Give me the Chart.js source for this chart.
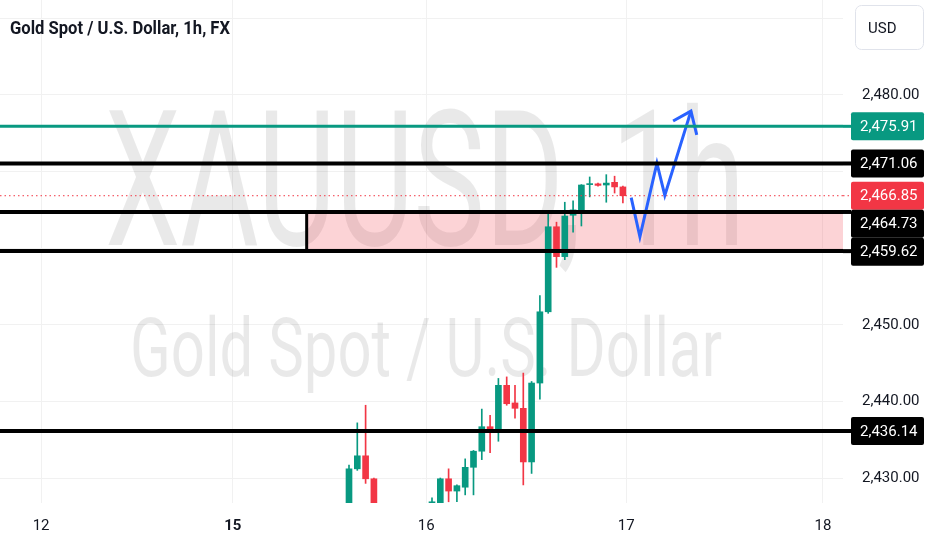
<!DOCTYPE html>
<html>
<head>
<meta charset="utf-8">
<script src="https://cdn.jsdelivr.net/npm/chart.js@4.4.1/dist/chart.umd.min.js"></script>
<style>
  html, body { margin: 0; padding: 0; background: #fff; }
  #wrap { position: relative; width: 932px; height: 550px; }
</style>
</head>
<body>
<div id="wrap"><canvas id="xau"></canvas></div>
<script>
// hourly bars, x = bar index, prices
const barIndex = [38, 39, 40, 41, 48, 49, 50, 51, 52, 53, 54, 55, 56, 57, 58, 59, 60, 61, 62, 63, 64, 65, 66, 67, 68, 69, 70, 71];
const opens  = [2425.5, 2431.2, 2432.9, 2429.9, 2425.8, 2425.6, 2429.9, 2428.3, 2428.8, 2431.4, 2433.5, 2436.7, 2436.3, 2442.1, 2439.8, 2439.1, 2432.1, 2442.4, 2451.7, 2462.8, 2458.9, 2464.3, 2465.0, 2468.3, 2468.4, 2468.25, 2468.6, 2468.0];
const highs  = [2431.7, 2437.2, 2439.5, 2430.0, 2427.4, 2430.0, 2431.2, 2429.1, 2432.5, 2433.6, 2439.0, 2438.2, 2443.0, 2443.2, 2442.1, 2443.7, 2442.6, 2453.8, 2464.9, 2463.4, 2466.0, 2466.2, 2468.3, 2469.3, 2468.5, 2469.6, 2469.4, 2468.1];
const lows   = [2424.0, 2431.0, 2429.3, 2424.0, 2425.5, 2425.0, 2426.9, 2426.9, 2427.8, 2427.8, 2432.4, 2433.3, 2434.8, 2439.5, 2437.8, 2429.1, 2430.6, 2440.3, 2451.5, 2457.5, 2458.5, 2462.1, 2462.9, 2466.7, 2468.1, 2466.0, 2467.2, 2465.9];
const closes = [2431.2, 2432.9, 2429.9, 2425.0, 2426.9, 2429.9, 2428.3, 2429.0, 2431.4, 2433.5, 2436.7, 2436.1, 2442.1, 2439.7, 2439.1, 2432.1, 2442.4, 2451.7, 2462.8, 2458.9, 2464.2, 2465.0, 2468.25, 2468.4, 2468.2, 2468.5, 2468.0, 2466.85];

// axis ticks
const dayTickPos = [0.9, 24, 47.3, 71.4, 95.1];
const dayTickLabels = ['12', '15', '16', '17', '18'];
const boldDay = '15';
const priceTicks = [2430, 2440, 2450, 2460, 2470, 2480, 2490];
const hiddenPriceTicks = [2460, 2470, 2490];

// drawings on the chart
const greenLevel = 2475.91;
const blackLevels = [2471.06, 2464.73, 2459.62, 2436.14];
const lastPrice = 2466.85;
const zoneTop = 2464.73;
const zoneBottom = 2459.62;
const zoneStart = 32.9;
const pathX = [72, 73.05, 75.1, 76.05, 79.2];
const pathY = [2466.6, 2461.5, 2471.1, 2466.9, 2477.9];
const arrowX = [77.05, 79.2, 79.9];
const arrowY = [2476.6, 2477.9, 2474.8];

const X_MIN = -4.05, X_MAX = 97.52;
const UP = '#089981', DOWN = '#f23645';

const candleColors = barIndex.map((x, i) => closes[i] >= opens[i] ? UP : DOWN);

function hline(v, color, width, dash) {
    return {
        type: 'line',
        data: [{ x: X_MIN, y: v }, { x: X_MAX, y: v }],
        borderColor: color,
        borderWidth: width,
        borderDash: dash || [],
        pointRadius: 0,
        order: 0
    };
}

function fitText(ctx, text, x, y, width) {
    const w = ctx.measureText(text).width;
    ctx.save();
    ctx.translate(x, y);
    ctx.scale(width / w, 1);
    ctx.fillText(text, 0, 0);
    ctx.restore();
}

// watermark, zone box, price labels, title, currency button
const drawings = {
    id: 'drawings',
    beforeDatasetsDraw(chart) {
        const { ctx, chartArea, scales } = chart;
        ctx.save();
        ctx.fillStyle = 'rgba(0,0,0,0.085)';
        ctx.textBaseline = 'alphabetic';
        ctx.font = '400 190px Roboto';
        fitText(ctx, 'XAUUSD, 1h', 105, 245, 640);
        ctx.font = '400 82px Roboto';
        fitText(ctx, 'Gold Spot / U.S. Dollar', 130, 376, 592);

        // pink zone
        const zx = scales.x.getPixelForValue(zoneStart);
        const zt = scales.y.getPixelForValue(zoneTop);
        const zb = scales.y.getPixelForValue(zoneBottom);
        ctx.fillStyle = 'rgba(242,54,69,0.22)';
        ctx.fillRect(zx, zt, chartArea.right - zx, zb - zt);
        ctx.restore();
    },
    afterDatasetsDraw(chart) {
        const { ctx, scales } = chart;
        const zx = scales.x.getPixelForValue(zoneStart);
        const zt = scales.y.getPixelForValue(zoneTop);
        const zb = scales.y.getPixelForValue(zoneBottom);
        ctx.save();
        ctx.strokeStyle = '#000';
        ctx.lineWidth = 3;
        ctx.beginPath();
        ctx.moveTo(zx, zt);
        ctx.lineTo(zx, zb);
        ctx.stroke();
        ctx.restore();
    },
    afterDraw(chart) {
        const { ctx, chartArea, scales } = chart;
        ctx.save();

        // price labels on the axis, pushed down when they overlap
        const labels = [
            { v: greenLevel, bg: UP },
            { v: lastPrice, bg: DOWN },
            ...blackLevels.map(v => ({ v, bg: '#000' }))
        ].map(l => ({ ...l, y: scales.y.getPixelForValue(l.v) }))
         .sort((a, b) => a.y - b.y);
        const h = 28;
        let prevBottom = -Infinity;
        labels.forEach(l => {
            let top = l.y - h / 2;
            if (top < prevBottom) top = prevBottom;
            prevBottom = top + h;
            // small connector from the plot edge
            ctx.strokeStyle = l.bg;
            ctx.lineWidth = l.bg === '#000' ? 4 : (l.bg === UP ? 3 : 1);
            if (l.bg === DOWN) ctx.setLineDash([1.5, 3]);
            ctx.beginPath();
            ctx.moveTo(chartArea.right, l.y);
            ctx.lineTo(851, l.y);
            ctx.stroke();
            ctx.setLineDash([]);
            ctx.fillStyle = l.bg;
            ctx.beginPath();
            ctx.roundRect(851, top, 73, h, 2);
            ctx.fill();
            ctx.fillStyle = '#fff';
            ctx.font = '15px Roboto';
            ctx.textBaseline = 'middle';
            ctx.textAlign = 'left';
            ctx.fillText(l.v.toLocaleString('en-US', { minimumFractionDigits: 2 }), 860, top + h / 2 + 1);
        });

        // currency button
        ctx.strokeStyle = '#e0e3eb';
        ctx.lineWidth = 1;
        ctx.beginPath();
        ctx.roundRect(855.5, 5.5, 68, 44, 6);
        ctx.stroke();
        ctx.fillStyle = '#131722';
        ctx.font = '15px Roboto';
        ctx.textBaseline = 'middle';
        ctx.fillText('USD', 868, 29);

        // title
        ctx.font = 'bold 19px Roboto';
        ctx.textBaseline = 'middle';
        ctx.textAlign = 'left';
        fitText(ctx, 'Gold Spot / U.S. Dollar, 1h, FX', 10, 29, 220);
        ctx.restore();
    }
};

new Chart(document.getElementById('xau'), {
    type: 'bar',
    data: {
        datasets: [
            hline(greenLevel, UP, 3),
            ...blackLevels.map(v => hline(v, '#000', 4)),
            {
                type: 'line',
                data: pathX.map((x, i) => ({ x, y: pathY[i] })),
                borderColor: '#2962ff',
                borderWidth: 3,
                pointRadius: 0,
                tension: 0,
                order: 0
            },
            {
                type: 'line',
                data: arrowX.map((x, i) => ({ x, y: arrowY[i] })),
                borderColor: '#2962ff',
                borderWidth: 3,
                pointRadius: 0,
                tension: 0,
                order: 0
            },
            {
                type: 'bar',
                data: barIndex.map((x, i) => ({ x, y: [lows[i], highs[i]] })),
                backgroundColor: candleColors,
                barThickness: 1,
                grouped: false,
                order: 2
            },
            {
                type: 'bar',
                data: barIndex.map((x, i) => ({ x, y: [opens[i], closes[i]] })),
                backgroundColor: candleColors,
                barThickness: 6,
                minBarLength: 1,
                grouped: false,
                order: 1
            },
            hline(lastPrice, DOWN, 1, [1.5, 3])
        ]
    },
    options: {
        responsive: true,
        maintainAspectRatio: false,
        animation: false,
        layout: { padding: 0 },
        plugins: {
            legend: { display: false },
            tooltip: { enabled: false }
        },
        scales: {
            x: {
                type: 'linear',
                min: X_MIN,
                max: X_MAX,
                offset: false,
                afterBuildTicks: s => { s.ticks = dayTickPos.map(v => ({ value: v })); },
                ticks: {
                    autoSkip: false,
                    maxRotation: 0,
                    padding: 14,
                    color: '#131722',
                    callback: (v, i) => dayTickLabels[i],
                    font: c => ({ family: 'Roboto', size: 15, weight: dayTickLabels[c.index] === boldDay ? 'bold' : 'normal' })
                },
                grid: { color: '#f1f1f1', drawTicks: false, offset: false },
                border: { display: false },
                afterFit: s => { s.height = 47; s.paddingLeft = 0; s.paddingRight = 0; }
            },
            y: {
                type: 'linear',
                position: 'right',
                min: 2426.74,
                max: 2492.4,
                afterBuildTicks: s => { s.ticks = priceTicks.map(v => ({ value: v })); },
                ticks: {
                    padding: 19,
                    color: '#131722',
                    font: { family: 'Roboto', size: 15 },
                    callback: v => hiddenPriceTicks.includes(v) ? '' : v.toLocaleString('en-US', { minimumFractionDigits: 2 })
                },
                grid: { color: '#f1f1f1', drawTicks: false },
                border: { display: false },
                afterFit: s => { s.width = 89; s.paddingTop = 0; s.paddingBottom = 0; }
            }
        }
    },
    plugins: [drawings]
});
</script>
</body>
</html>
